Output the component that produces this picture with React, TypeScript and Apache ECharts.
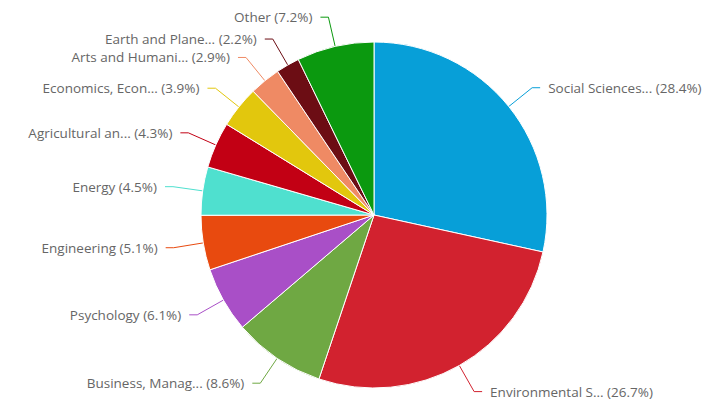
import React, { useEffect, useRef } from "react";
import * as echarts from "echarts";

const categories = [
  "Social Sciences...",
  "Environmental S...",
  "Business, Manag...",
  "Psychology",
  "Engineering",
  "Energy",
  "Agricultural an...",
  "Economics, Econ...",
  "Arts and Humani...",
  "Earth and Plane...",
  "Other",
];
const values = [28.4, 26.7, 8.6, 6.1, 5.1, 4.5, 4.3, 3.9, 2.9, 2.2, 7.2];
const colors = [
  "#079fd8",
  "#d2222f",
  "#6fa843",
  "#a94fc7",
  "#e84a0f",
  "#4fe0cf",
  "#c20014",
  "#e2c70d",
  "#ef8a64",
  "#6c0d14",
  "#0b990f",
];

export default function App() {
  const ref = useRef<HTMLDivElement>(null);
  useEffect(() => {
    document.body.style.margin = "0";
    const chart = echarts.init(ref.current!, null, { renderer: "svg" });
    chart.setOption({
      animation: false,
      backgroundColor: "#ffffff",
      series: [
        {
          type: "pie",
          center: [374, 215],
          radius: 173,
          startAngle: 90,
          clockwise: true,
          avoidLabelOverlap: true,
          data: categories.map((name, i) => ({
            name,
            value: values[i],
            itemStyle: { color: colors[i] },
          })),
          itemStyle: { borderColor: "#ffffff", borderWidth: 1 },
          label: {
            formatter: (p: any) => `${p.name} (${values[p.dataIndex].toFixed(1)}%)`,
            color: "#666666",
            fontFamily: "Open Sans",
            fontSize: 13.5,
            overflow: "none",
            distanceToLabelLine: 8,
            padding: [10, 0, 0, 0],
          },
          labelLine: {
            show: true,
            length: 30,
            length2: 8,
            lineStyle: { width: 1 },
          },
        },
      ],
    });
    return () => chart.dispose();
  }, []);
  return <div ref={ref} style={{ width: 714, height: 409 }} />;
}
